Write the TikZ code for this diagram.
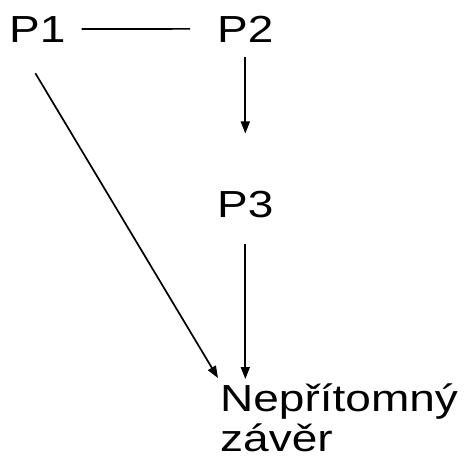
\documentclass[tikz,border=0pt]{standalone}
\usepackage{fontspec}
\setmainfont{Liberation Sans}[FakeStretch=1.22]
\usetikzlibrary{arrows.meta}

\begin{document}
\begin{tikzpicture}[
    x = 1pt, y = 1pt,
    every node/.style = {inner sep = 0pt, anchor = base west, font = \fontsize{37.7}{43}\selectfont},
    link/.style = {line width = 1.7pt},
    arr/.style = {line width = 1.7pt, -{Triangle[length = 12pt, width = 9pt]}}]

\useasboundingbox (0,0) rectangle (464,-459);

\path (9,-42) node(p1) {P1}
	  (217,-42) node(p2) {P2}
	  (217,-217) node(p3) {P3}
	  (220,-411) node(np1) {Nepřítomný}
	  (220,-451) node(np2) {závěr};

\draw[link, shorten <= 16pt, shorten >= 27pt] (p1.east) -- (p2.west);
\draw[arr, shorten <= 15pt, shorten >= 57pt] (p2.south) -- (p3.north);
\draw[arr, shorten <= 26pt, shorten >= 4pt] (p3.south) -- (p3.south |- np1.north);
\draw[arr] ([xshift=-2pt, yshift=-31pt]p1.south) -- ([xshift=-2pt, yshift=5pt]np1.north west);
\end{tikzpicture}
\end{document}
